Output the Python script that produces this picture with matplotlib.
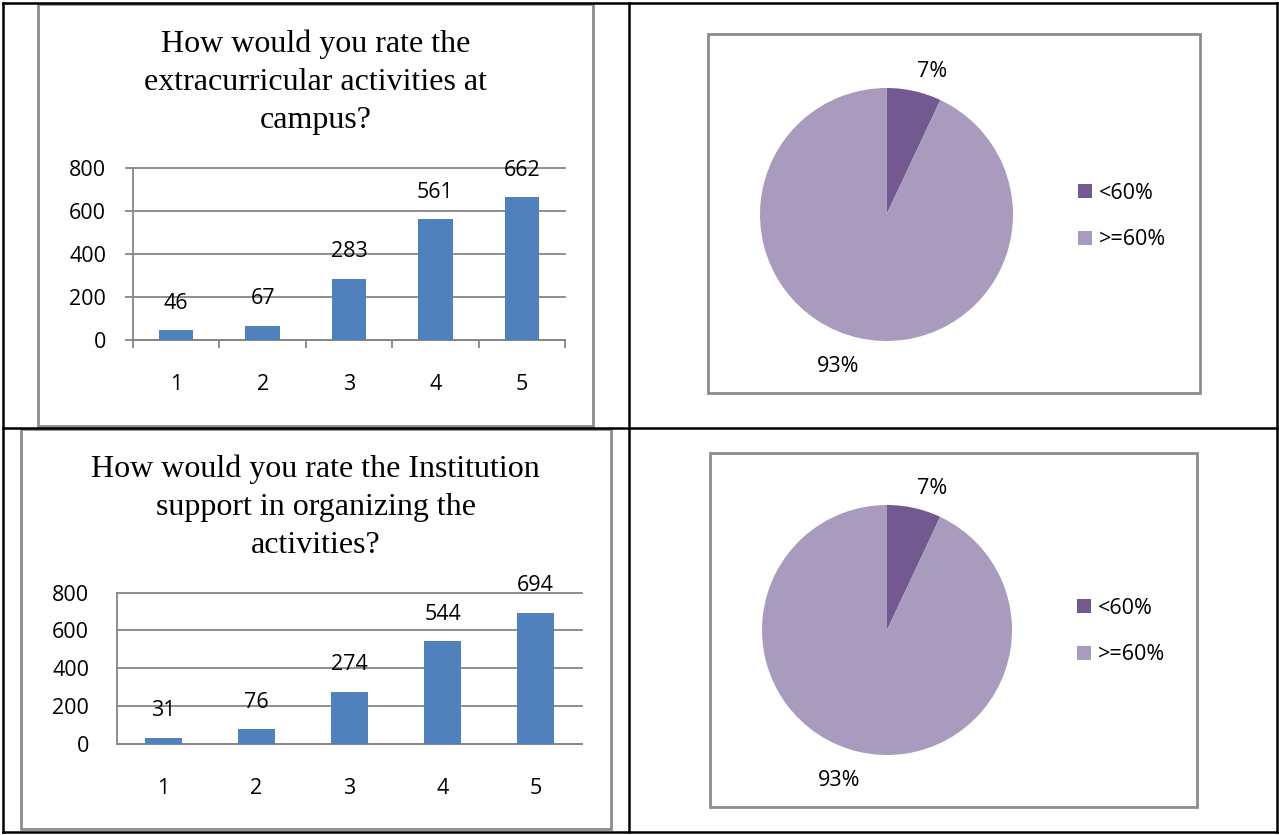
import numpy as np
import matplotlib
matplotlib.use("Agg")
import matplotlib.pyplot as plt
from matplotlib.lines import Line2D
from matplotlib.patches import Rectangle

# ---------------- data ----------------
categories = ["1", "2", "3", "4", "5"]
q1_title = "How would you rate the\nextracurricular activities at\ncampus?"
q1_values = [46, 67, 283, 561, 662]
q2_title = "How would you rate the Institution\nsupport in organizing the\nactivities?"
q2_values = [31, 76, 274, 544, 694]
y_ticks = [0, 200, 400, 600, 800]

pie_labels = ["<60%", ">=60%"]
pie1_values = [7, 93]
pie2_values = [7, 93]

# ---------------- style ----------------
W, H = 1279, 835
BAR = "#4F81BD"
GRID = "#868686"
BOX = "#8C8C8C"
PIE_COLORS = ["#72598F", "#A99BBD"]
PIE_LABEL_R = [1.19, 1.26]
SANS = ["Open Sans", "DejaVu Sans"]
SERIF = ["Liberation Serif", "DejaVu Serif"]
LBL = 15.5
TTL = 23

fig = plt.figure(figsize=(W / 100, H / 100), dpi=100)
fig.patch.set_facecolor("white")


def fx(px):
    return px / W


def fy(py):
    return 1 - py / H


def axes_px(left, top, right, bottom):
    return fig.add_axes([left / W, 1 - bottom / H, (right - left) / W, (bottom - top) / H])


def pt(px):
    return px * 72 / 100


# chart frames (gray boxes)
def box(left, top, right, bottom):
    fig.add_artist(Rectangle((fx(left), fy(bottom)), (right - left) / W, (bottom - top) / H,
                             transform=fig.transFigure, fill=False, edgecolor=BOX, lw=2.0, zorder=1))


box(37.5, 4, 593, 426)
box(21, 429, 611, 829)
box(708, 34, 1200, 393)
box(710, 452.5, 1197, 807)

# table lines
def tline(x1, y1, x2, y2):
    fig.add_artist(Line2D([fx(x1), fx(x2)], [fy(y1), fy(y2)], color="black", lw=1.8,
                          transform=fig.transFigure, zorder=5))


tline(2.5, 2.5, 1277, 2.5)
tline(2.5, 427.5, 1277, 427.5)
tline(2.5, 832, 1277, 832)
tline(2.5, 2.5, 2.5, 832)
tline(628.5, 2.5, 628.5, 832)
tline(1277, 2.5, 1277, 832)


def bar_chart(rect, values, title, title_xy, tick_len, xpad, ypad):
    ax = axes_px(*rect)
    x = np.arange(1, len(values) + 1)
    bars = ax.bar(x, values, width=0.4, color=BAR, zorder=3)
    ax.set_xlim(0.5, len(values) + 0.5)
    ax.set_ylim(0, 800)
    ax.set_yticks(y_ticks)
    ax.set_yticklabels([str(v) for v in y_ticks], fontfamily=SANS, fontsize=LBL)
    ax.set_xticks(x)
    ax.set_xticklabels(categories, fontfamily=SANS, fontsize=LBL)
    ax.set_xticks(np.arange(0.5, len(values) + 1, 1.0), minor=True)
    ax.tick_params(axis="x", which="major", length=0, pad=xpad)
    ax.tick_params(axis="x", which="minor", length=pt(tick_len), width=1.3, color=GRID)
    ax.tick_params(axis="y", length=pt(tick_len), width=1.3, color=GRID, pad=ypad)
    ax.yaxis.grid(True, color=GRID, lw=1.3, zorder=0)
    for gl in ax.get_ygridlines():
        gl.set_clip_on(False)
    ax.set_axisbelow(True)
    for s in ["top", "right"]:
        ax.spines[s].set_visible(False)
    for s in ["left", "bottom"]:
        ax.spines[s].set_color(GRID)
        ax.spines[s].set_linewidth(1.3)
    ax.patch.set_alpha(0)
    for b, v in zip(bars, values):
        ax.annotate(str(v), (b.get_x() + b.get_width() / 2, v), xytext=(0, pt(27)),
                    textcoords="offset points", ha="center", va="center",
                    fontfamily=SANS, fontsize=LBL, zorder=4)
    fig.text(fx(title_xy[0]), fy(title_xy[1]), title, ha="center", va="center",
             fontfamily=SERIF, fontsize=TTL, linespacing=1.42)
    return ax


bar_chart((133, 167.5, 565, 340), q1_values, q1_title, (315.5, 82), 8, pt(34), pt(19))
bar_chart((117, 592.7, 582, 743.7), q2_values, q2_title, (315.5, 507.5), 0, pt(34), pt(28))


def pie_chart(rect, values, legend_xy):
    ax = axes_px(*rect)
    wedges, _ = ax.pie(values, colors=PIE_COLORS, startangle=90, counterclock=False,
                       radius=1, wedgeprops=dict(linewidth=0))
    ax.set_xlim(-1, 1)
    ax.set_ylim(-1, 1)
    ax.set_aspect("equal")
    ax.axis("off")
    total = sum(values)
    for w, v, r in zip(wedges, values, PIE_LABEL_R):
        mid = np.deg2rad((w.theta1 + w.theta2) / 2 - 5)
        ax.text(r * np.cos(mid), r * np.sin(mid), f"{v / total * 100:.0f}%",
                ha="center", va="center", fontfamily=SANS, fontsize=LBL)
    ax.legend(wedges, pie_labels, loc="center left",
              bbox_to_anchor=(fx(legend_xy[0]), fy(legend_xy[1])),
              bbox_transform=fig.transFigure, frameon=False, borderpad=0,
              borderaxespad=0, handlelength=0.66, handleheight=0.66,
              handletextpad=0.3, labelspacing=1.2,
              prop=dict(family=SANS, size=LBL))
    return ax


pie_chart((760, 88, 1013, 341), pie1_values, (1078, 216.5))
pie_chart((762, 505, 1012, 755), pie2_values, (1077, 631.5))

fig.savefig("out.png", dpi=100, facecolor="white")
